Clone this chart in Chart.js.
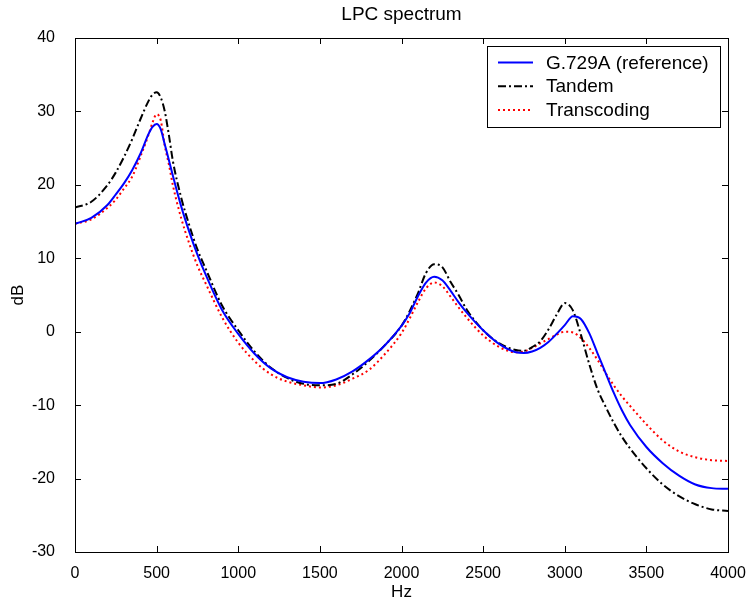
<!DOCTYPE html>
<html>
<head>
<meta charset="utf-8">
<script src="https://cdn.jsdelivr.net/npm/chart.js@4/dist/chart.umd.min.js"></script>
<style>
html,body{margin:0;padding:0;background:#fff;}
#wrap{width:752px;height:603px;position:relative;}
</style>
</head>
<body>
<div id="wrap"><canvas id="c" width="752" height="603"></canvas></div>
<script>
const chartTitle = "LPC spectrum";
const xTitle = "Hz";
const yTitle = "dB";
const seriesNames = ["G.729A (reference)", "Tandem", "Transcoding"];
const xTicks = [0,500,1000,1500,2000,2500,3000,3500,4000];
const yTicks = [-30,-20,-10,0,10,20,30,40];

const freq = [0,100,200,250,300,350,400,450,475,500,525,550,575,600,650,700,750,800,900,1000,1100,1200,1300,1400,1500,1600,1700,1800,1900,2000,2050,2100,2150,2200,2250,2300,2350,2400,2500,2600,2700,2750,2800,2850,2900,2950,3000,3050,3100,3150,3200,3250,3300,3350,3400,3500,3600,3700,3800,3900,4000];

const g729a = [14.7,15.5,17.3,18.7,20.2,22.0,24.2,26.9,27.9,28.3,27.6,25.5,23.4,21.2,17.1,13.6,10.5,7.8,3.0,-0.3,-3.0,-5.0,-6.2,-6.8,-7.0,-6.5,-5.4,-3.8,-1.8,0.8,2.5,4.8,6.7,7.5,7.0,5.6,4.0,2.6,0.2,-1.7,-2.8,-2.9,-2.7,-2.2,-1.4,-0.3,0.9,2.1,1.7,-0.2,-2.9,-5.6,-8.3,-10.7,-12.7,-15.7,-17.9,-19.6,-20.8,-21.3,-21.4];

const tandem = [16.9,17.7,20.0,21.7,23.8,26.2,28.9,31.4,32.3,32.6,31.9,30.0,26.8,23.2,18.3,14.5,11.2,8.6,3.6,0.2,-2.7,-4.9,-6.3,-7.1,-7.3,-7.1,-5.8,-4.0,-1.8,0.8,2.8,5.2,8.0,9.2,8.8,6.8,5.0,3.0,0.2,-1.6,-2.5,-2.6,-2.1,-1.3,0.3,2.3,3.9,2.9,-0.5,-4.4,-7.8,-10.2,-12.4,-14.3,-15.9,-18.6,-20.8,-22.4,-23.5,-24.2,-24.4];

const transcoding = [14.7,15.3,16.9,18.0,19.5,21.1,23.8,26.8,28.5,29.6,28.8,25.3,22.8,19.9,15.5,12.0,9.0,6.6,2.0,-1.5,-4.0,-5.8,-6.8,-7.3,-7.6,-7.3,-6.4,-5.2,-3.0,-0.2,1.8,4.0,5.9,6.7,6.2,4.8,3.3,1.9,-0.5,-2.1,-2.8,-2.7,-2.2,-1.6,-1.0,-0.4,0.0,-0.1,-0.9,-2.2,-3.8,-5.6,-7.3,-8.8,-10.1,-12.6,-14.8,-16.3,-17.1,-17.5,-17.6];

const toPts = v => freq.map((f,i)=>({x:f,y:v[i]}));
const FONT = "'Liberation Sans', Arial, sans-serif";

const framePlugin = {
  id:'frame',
  afterDraw(chart){
    const ctx = chart.ctx, a = chart.chartArea;
    const xs = chart.scales.x, ys = chart.scales.y;
    ctx.save();
    ctx.strokeStyle = '#000'; ctx.lineWidth = 1; ctx.setLineDash([]);
    ctx.strokeRect(Math.round(a.left)+0.5, Math.round(a.top)+0.5, Math.round(a.right-a.left), Math.round(a.bottom-a.top));
    const tl = 6;
    ctx.beginPath();
    xTicks.forEach(t=>{
      const px = Math.round(xs.getPixelForValue(t))+0.5;
      ctx.moveTo(px,a.bottom); ctx.lineTo(px,a.bottom-tl);
      ctx.moveTo(px,a.top); ctx.lineTo(px,a.top+tl);
    });
    yTicks.forEach(t=>{
      const py = Math.round(ys.getPixelForValue(t))+0.5;
      ctx.moveTo(a.left,py); ctx.lineTo(a.left+tl,py);
      ctx.moveTo(a.right,py); ctx.lineTo(a.right-tl,py);
    });
    ctx.stroke();
    // title
    ctx.fillStyle = '#000';
    ctx.font = "19px " + FONT;
    ctx.textAlign = 'center'; ctx.textBaseline = 'middle';
    ctx.fillText(chartTitle, (a.left+a.right)/2, 15);
    // legend
    const bw = 233, bh = 81;
    const bx = a.right - 8 - bw, by = a.top + 8;
    ctx.fillStyle = '#fff';
    ctx.fillRect(bx, by, bw, bh);
    ctx.strokeStyle = '#000'; ctx.lineWidth = 1;
    ctx.strokeRect(Math.round(bx)+0.5, Math.round(by)+0.5, bw, bh);
    ctx.font = "19px " + FONT;
    ctx.textAlign = 'left';
    chart.data.datasets.forEach((ds,i)=>{
      const yy = by + 16.5 + i*23.7;
      ctx.save();
      ctx.strokeStyle = ds.borderColor; ctx.lineWidth = ds.borderWidth;
      ctx.setLineDash(ds.borderDash || []);
      ctx.beginPath(); ctx.moveTo(bx+11, yy); ctx.lineTo(bx+46, yy); ctx.stroke();
      ctx.restore();
      ctx.fillStyle = '#000';
      ctx.fillText(ds.label, bx+59, yy+1);
    });
    ctx.restore();
  }
};

new Chart(document.getElementById('c'), {
  type:'line',
  data:{
    datasets:[
      {label:seriesNames[0], data:toPts(g729a), borderColor:'#0000ff', borderWidth:2, pointRadius:0, cubicInterpolationMode:'monotone', fill:false},
      {label:seriesNames[1], data:toPts(tandem), borderColor:'#000000', borderWidth:2, borderDash:[8,3,2,3], pointRadius:0, cubicInterpolationMode:'monotone', fill:false},
      {label:seriesNames[2], data:toPts(transcoding), borderColor:'#ff0000', borderWidth:2, borderDash:[2,3], pointRadius:0, cubicInterpolationMode:'monotone', fill:false}
    ]
  },
  options:{
    responsive:false,
    animation:false,
    layout:{padding:{left:0,right:24,top:38,bottom:0}},
    plugins:{legend:{display:false}, title:{display:false}, tooltip:{enabled:false}},
    scales:{
      x:{
        type:'linear', min:0, max:4000,
        afterBuildTicks(s){ s.ticks = xTicks.map(v=>({value:v})); },
        afterFit(s){ s.height = 51; },
        grid:{display:false}, border:{display:false},
        ticks:{color:'#000', font:{family:FONT, size:16}, padding:4, maxRotation:0, autoSkip:false, callback:v=>String(v)},
        title:{display:true, text:xTitle, color:'#000', font:{family:FONT, size:17, lineHeight:1.0}, padding:{top:0,bottom:2}}
      },
      y:{
        type:'linear', min:-30, max:40,
        afterBuildTicks(s){ s.ticks = yTicks.map(v=>({value:v})); },
        afterFit(s){ s.width = 75; },
        grid:{display:false}, border:{display:false},
        ticks:{color:'#000', font:{family:FONT, size:16}, padding:12, autoSkip:false, callback:v=>String(v)},
        title:{display:true, text:yTitle, color:'#000', font:{family:FONT, size:17}, padding:{top:8,bottom:0}}
      }
    }
  },
  plugins:[framePlugin]
});
</script>
</body>
</html>
